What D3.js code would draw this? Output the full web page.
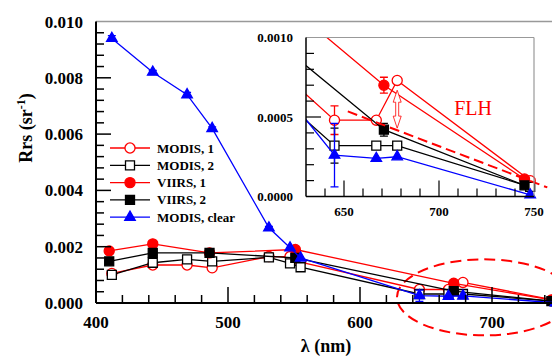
<!DOCTYPE html>
<html>
<head>
<meta charset="utf-8">
<script src="https://cdn.jsdelivr.net/npm/d3@7"></script>
<style>
body { margin: 0; background: #fff; }
text { font-family: "Liberation Serif", "Times New Roman", serif; }
</style>
</head>
<body>
<svg id="svg" width="552" height="356"></svg>
<script>
// band centres (nm)
var modisBands = [412, 443, 469, 488, 531, 547, 555, 645, 667, 678, 748];
var viirsBands = [410, 443, 486, 551, 671, 745];

// Rrs values (sr-1)
var modis1 = [0.00105, 0.00135, 0.00135, 0.00125, 0.00165, 0.00165, 0.00145, 0.00048, 0.00048, 0.00073, 0.00010];
var modis2 = [0.00100, 0.00143, 0.00155, 0.00148, 0.00162, 0.00141, 0.00127, 0.00032, 0.00032, 0.00032, 0.00006];
var viirs1 = [0.00185, 0.00210, 0.00178, 0.00190, 0.00070, 0.00011];
var viirs2 = [0.00148, 0.00178, 0.00178, 0.00160, 0.00042, 0.00007];
var clear  = [0.00940, 0.00820, 0.00740, 0.00620, 0.00267, 0.00196, 0.00160, 0.00026, 0.00024, 0.00025, 0.00001];

// error bars (+/-)
var modis1Err = [0, 0, 0, 0, 0, 0, 0, 0.00009, 0, 0, 0];
var modis2Err = [0.00012, 0, 0, 0, 0, 0, 0, 0.00011, 0, 0, 0];
var viirs1Err = [0, 0, 0, 0, 0.00005, 0];
var viirs2Err = [0, 0, 0, 0, 0.00004, 0];
var clearErr  = [0.0001, 0.00006, 0.00008, 0.00006, 0.00005, 0, 0, 0.0002, 0, 0, 0];

var legendNames = ["MODIS, 1", "MODIS, 2", "VIIRS, 1", "VIIRS, 2", "MODIS, clear"];

// FLH baseline (nm, Rrs) and arrow at 678
var flhBaseX = [652, 757];
var flhBaseY = [0.000535, 0.000057];
var flhArrow = [678, 0.00070, 0.00043];

var mainXTicks = [400, 500, 600, 700];
var mainYTicks = ["0.000", "0.002", "0.004", "0.006", "0.008", "0.010"];
var insetXTicks = [650, 700, 750];
var insetYTicks = ["0.0000", "0.0005", "0.0010"];

var series = [
  {name: legendNames[0], bx: modisBands, v: modis1, e: modis1Err, col: "#ff0000", shape: d3.symbolCircle, fill: "#fff"},
  {name: legendNames[1], bx: modisBands, v: modis2, e: modis2Err, col: "#000", shape: d3.symbolSquare, fill: "#fff"},
  {name: legendNames[2], bx: viirsBands, v: viirs1, e: viirs1Err, col: "#ff0000", shape: d3.symbolCircle, fill: "#ff0000"},
  {name: legendNames[3], bx: viirsBands, v: viirs2, e: viirs2Err, col: "#000", shape: d3.symbolSquare, fill: "#000"},
  {name: legendNames[4], bx: modisBands, v: clear, e: clearErr, col: "#0000ff", shape: d3.symbolTriangle, fill: "#0000ff"}
];
function symSize(s) { return s === d3.symbolTriangle ? 48 : (s === d3.symbolSquare ? 81 : 80); }

var svg = d3.select("#svg");

// ---------- main plot ----------
var x = d3.scaleLinear().domain([400, 750]).range([96, 558]);
var y = d3.scaleLinear().domain([0, 0.010]).range([303, 21.5]);

var main = svg.append("g");

function drawSeries(g, xs, ys, clipId, filter) {
  series.forEach(function(s) {
    var pts = s.bx.map(function(b, i) { return {b: b, v: s.v[i], e: s.e[i]}; });
    var line = d3.line().x(function(d) { return xs(d.b); }).y(function(d) { return ys(d.v); });
    var lg = g.append("g");
    if (clipId) lg.attr("clip-path", "url(#" + clipId + ")");
    lg.append("path").attr("d", line(pts)).attr("fill", "none")
      .attr("stroke", s.col).attr("stroke-width", 1.3);
    var shown = pts.filter(filter);
    shown.filter(function(d) { return d.e > 0; }).forEach(function(d) {
      var cx = xs(d.b), y1 = ys(d.v + d.e), y2 = ys(d.v - d.e);
      lg.append("path").attr("d", "M" + cx + "," + y1 + "V" + y2 + "M" + (cx - 4) + "," + y1 + "h8M" + (cx - 4) + "," + y2 + "h8")
        .attr("stroke", s.col).attr("stroke-width", 1.3).attr("fill", "none");
    });
    g.selectAll(null).data(shown).enter().append("path")
      .attr("d", d3.symbol().type(s.shape).size(symSize(s.shape)))
      .attr("transform", function(d) { return "translate(" + xs(d.b) + "," + ys(d.v) + ")"; })
      .attr("fill", s.fill).attr("stroke", s.col).attr("stroke-width", 1.3);
  });
}

// FLH ellipse
main.append("ellipse")
  .attr("cx", x(694)).attr("cy", y(0.0002))
  .attr("rx", x(760) - x(694)).attr("ry", y(0) - y(0.00135))
  .attr("fill", "none").attr("stroke", "#ff0000").attr("stroke-width", 2)
  .attr("stroke-dasharray", "11,6");

drawSeries(main, x, y, null, function() { return true; });

// axes frame
main.append("line").attr("x1", 96).attr("x2", 552).attr("y1", y(0.010)).attr("y2", y(0.010))
  .attr("stroke", "#999").attr("stroke-width", 1.5);
main.append("line").attr("x1", 96).attr("x2", 96).attr("y1", y(0.010)).attr("y2", y(0))
  .attr("stroke", "#000").attr("stroke-width", 2);
main.append("line").attr("x1", 96).attr("x2", 552).attr("y1", y(0)).attr("y2", y(0))
  .attr("stroke", "#000").attr("stroke-width", 2);

for (var i = 1; i < 25; i++) {
  var len = i % 5 === 0 ? 15 : 8;
  main.append("line").attr("x1", 96).attr("x2", 96 + len)
    .attr("y1", y(i * 0.0004)).attr("y2", y(i * 0.0004)).attr("stroke", "#000").attr("stroke-width", 1.5);
}
for (var b = 420; b <= 740; b += 20) {
  var l2 = b % 100 === 0 ? 16 : 8;
  main.append("line").attr("x1", x(b)).attr("x2", x(b))
    .attr("y1", y(0)).attr("y2", y(0) - l2).attr("stroke", "#000").attr("stroke-width", 1.5);
}
main.selectAll(null).data(mainYTicks).enter().append("text")
  .attr("x", 83).attr("y", function(d) { return y(+d) + 6; })
  .attr("text-anchor", "end").attr("font-size", 17).attr("font-weight", "bold").text(function(d) { return d; });
main.selectAll(null).data(mainXTicks).enter().append("text")
  .attr("x", function(d) { return x(d); }).attr("y", 328)
  .attr("text-anchor", "middle").attr("font-size", 17).attr("font-weight", "bold").text(function(d) { return d; });

// axis titles
var yt = main.append("text").attr("transform", "translate(32,128) rotate(-90)")
  .attr("text-anchor", "middle").attr("font-size", 18).attr("font-weight", "bold");
yt.append("tspan").text("Rrs (sr");
yt.append("tspan").attr("font-size", 12).attr("dy", -7).text("-1");
yt.append("tspan").attr("dy", 7).text(")");
main.append("text").attr("x", 326).attr("y", 352).attr("text-anchor", "middle")
  .attr("font-size", 18).attr("font-weight", "bold").text("λ (nm)");

// legend
var leg = main.append("g");
series.forEach(function(s, i) {
  var ly = 148 + i * 17.3;
  leg.append("line").attr("x1", 110).attr("x2", 150).attr("y1", ly).attr("y2", ly)
    .attr("stroke", s.col).attr("stroke-width", 1.3);
  leg.append("path").attr("d", d3.symbol().type(s.shape).size(symSize(s.shape)))
    .attr("transform", "translate(130," + ly + ")")
    .attr("fill", s.fill).attr("stroke", s.col).attr("stroke-width", 1.3);
  leg.append("text").attr("x", 157).attr("y", ly + 4.5).attr("font-size", 13)
    .attr("font-weight", "bold").text(s.name);
});

// ---------- inset ----------
var xi = d3.scaleLinear().domain([630, 750]).range([306, 534]);
var yi = d3.scaleLinear().domain([0, 0.001]).range([196.5, 37.5]);
var inset = svg.append("g");
svg.append("defs").append("clipPath").attr("id", "ic").append("rect")
  .attr("x", 306).attr("y", 37.5).attr("width", 228).attr("height", 159);

inset.append("rect").attr("x", 306).attr("y", 37.5).attr("width", 228).attr("height", 159).attr("fill", "#fff");
drawSeries(inset, xi, yi, "ic", function(d) { return d.b >= 630; });

// baseline & arrow
inset.append("line").attr("x1", xi(flhBaseX[0])).attr("y1", yi(flhBaseY[0]))
  .attr("x2", xi(flhBaseX[1])).attr("y2", yi(flhBaseY[1]))
  .attr("stroke", "#ff0000").attr("stroke-width", 2).attr("stroke-dasharray", "10,5");
var ax = xi(flhArrow[0]), at = yi(flhArrow[1]) + 5, ab = yi(flhArrow[2]);
inset.append("path")
  .attr("d", "M" + ax + "," + at + "l4,12h-2.5V" + (ab - 12) + "h2.5L" + ax + "," + ab + "l-4,-12h2.5V" + (at + 12) + "h-2.5Z")
  .attr("fill", "#fff").attr("stroke", "#ff0000").attr("stroke-width", 0.8);
inset.append("text").attr("x", xi(708)).attr("y", yi(0.00051)).attr("font-size", 20)
  .attr("fill", "#ff0000").text("FLH");

inset.append("line").attr("x1", 306).attr("x2", 534).attr("y1", 37.5).attr("y2", 37.5).attr("stroke", "#999").attr("stroke-width", 1.2);
inset.append("line").attr("x1", 534).attr("x2", 534).attr("y1", 37.5).attr("y2", 196.5).attr("stroke", "#999").attr("stroke-width", 1.2);
inset.append("line").attr("x1", 306).attr("x2", 306).attr("y1", 37.5).attr("y2", 196.5).attr("stroke", "#000").attr("stroke-width", 1.5);
inset.append("line").attr("x1", 306).attr("x2", 534).attr("y1", 196.5).attr("y2", 196.5).attr("stroke", "#000").attr("stroke-width", 1.5);
for (var k = 1; k < 10; k++) {
  var l3 = k % 5 === 0 ? 15 : 8;
  inset.append("line").attr("x1", 306).attr("x2", 306 + l3)
    .attr("y1", yi(k * 0.0001)).attr("y2", yi(k * 0.0001)).attr("stroke", "#000").attr("stroke-width", 1.2);
}
for (var c = 640; c <= 740; c += 10) {
  var l4 = c % 50 === 0 ? 16 : 8;
  inset.append("line").attr("x1", xi(c)).attr("x2", xi(c))
    .attr("y1", 196.5).attr("y2", 196.5 - l4).attr("stroke", "#000").attr("stroke-width", 1.2);
}
inset.selectAll(null).data(insetYTicks).enter().append("text")
  .attr("x", 293).attr("y", function(d) { return yi(+d) + 4.5; })
  .attr("text-anchor", "end").attr("font-size", 13).attr("font-weight", "bold").text(function(d) { return d; });
inset.selectAll(null).data(insetXTicks).enter().append("text")
  .attr("x", function(d) { return xi(d); }).attr("y", 216)
  .attr("text-anchor", "middle").attr("font-size", 13).attr("font-weight", "bold").text(function(d) { return d; });
</script>
</body>
</html>
